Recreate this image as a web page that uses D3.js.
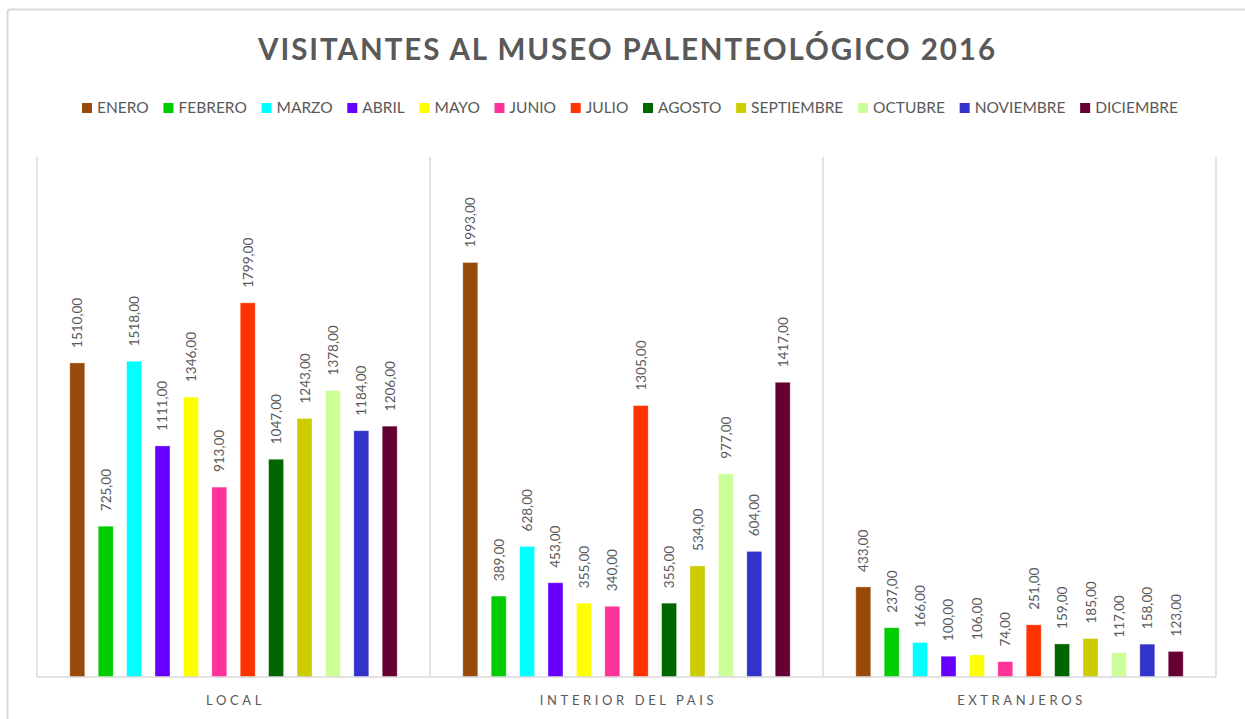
<!DOCTYPE html>
<html>
<head>
<meta charset="utf-8">
<script src="https://cdn.jsdelivr.net/npm/d3@7/dist/d3.min.js"></script>
<style>
  html, body { margin: 0; padding: 0; background: #fff; }
  svg { display: block; font-family: Lato, "Open Sans", sans-serif; }
</style>
</head>
<body>
<svg id="chart" width="1245" height="719"></svg>
<script>
// Visitor counts per origin group, one series per month
const groups = ["LOCAL", "INTERIOR DEL PAIS", "EXTRANJEROS"];
const months = ["ENERO", "FEBRERO", "MARZO", "ABRIL", "MAYO", "JUNIO", "JULIO",
                "AGOSTO", "SEPTIEMBRE", "OCTUBRE", "NOVIEMBRE", "DICIEMBRE"];
const localValues    = [1510, 725, 1518, 1111, 1346, 913, 1799, 1047, 1243, 1378, 1184, 1206];
const interiorValues = [1993, 389, 628, 453, 355, 340, 1305, 355, 534, 977, 604, 1417];
const foreignValues  = [433, 237, 166, 100, 106, 74, 251, 159, 185, 117, 158, 123];
const monthColors = ["#974A0A", "#00CC00", "#00FFFF", "#6600FF", "#FFFF00", "#FF3399",
                     "#FF3300", "#006600", "#CCCC00", "#CCFF99", "#3333CC", "#660033"];
const yMax = 2500;

const seriesByGroup = [localValues, interiorValues, foreignValues];
const rows = [];
groups.forEach((g, gi) => months.forEach((m, mi) =>
  rows.push({ group: g, month: m, value: seriesByGroup[gi][mi] })));

const svg = d3.select("#chart");
const textColor = "#595959";
const gridColor = "#d9d9d9";

// chart frame
svg.append("rect")
  .attr("x", 7.5).attr("y", 9.5).attr("width", 1260).attr("height", 730)
  .attr("rx", 3)
  .attr("fill", "none").attr("stroke", gridColor).attr("stroke-width", 2);

const plot = { left: 37, right: 1216, top: 157, bottom: 677 };

const x0 = d3.scaleBand().domain(groups).range([plot.left, plot.right]).padding(0);
const x1 = d3.scaleBand().domain(months).range([0, x0.bandwidth()])
  .paddingInner(0.472).paddingOuter(1.155);
const y = d3.scaleLinear().domain([0, yMax]).range([plot.bottom, plot.top]);
const color = d3.scaleOrdinal().domain(months).range(monthColors);

// title
svg.append("text")
  .attr("x", 626.5).attr("y", 60)
  .attr("text-anchor", "middle")
  .attr("font-size", 29.5).attr("font-weight", 700)
  .attr("fill", textColor)
  .attr("textLength", 737).attr("lengthAdjust", "spacing")
  .text("VISITANTES AL MUSEO PALENTEOLÓGICO 2016");

// group separators (category axis boundaries)
const bounds = groups.map(g => x0(g)).concat([x0(groups[groups.length - 1]) + x0.bandwidth()]);
svg.append("g").selectAll("line").data(bounds).join("line")
  .attr("x1", d => d).attr("x2", d => d)
  .attr("y1", plot.top).attr("y2", plot.bottom)
  .attr("stroke", gridColor).attr("stroke-width", 1.5);

// bars
const bars = svg.append("g");
bars.selectAll("rect").data(rows).join("rect")
  .attr("x", d => x0(d.group) + x1(d.month))
  .attr("y", d => y(d.value))
  .attr("width", x1.bandwidth())
  .attr("height", d => y(0) - y(d.value))
  .attr("fill", d => color(d.month))
  .attr("stroke", "rgba(255,255,255,0.45)").attr("stroke-width", 0.8);

// value labels, rotated above each bar
svg.append("g").selectAll("text").data(rows).join("text")
  .attr("transform", d => {
    const cx = x0(d.group) + x1(d.month) + x1.bandwidth() / 2 + 5;
    return `translate(${cx},${y(d.value) - 15}) rotate(-90)`;
  })
  .attr("text-anchor", "start")
  .attr("font-size", 13.5).attr("fill", textColor)
  .text(d => d3.format(".2f")(d.value).replace(".", ","));

// baseline
svg.append("line")
  .attr("x1", plot.left).attr("x2", plot.right)
  .attr("y1", plot.bottom).attr("y2", plot.bottom)
  .attr("stroke", gridColor).attr("stroke-width", 1.5);

// category labels
svg.append("g").selectAll("text").data(groups).join("text")
  .attr("x", d => x0(d) + x0.bandwidth() / 2 + 2)
  .attr("y", 705)
  .attr("text-anchor", "middle")
  .attr("font-size", 13).attr("letter-spacing", 3.6)
  .attr("fill", textColor)
  .text(d => d);

// legend
const legend = svg.append("g");
const items = legend.selectAll("g").data(months).join("g");
items.append("rect").attr("width", 10).attr("height", 10).attr("y", -10)
  .attr("fill", d => color(d));
items.append("text").attr("x", 15).attr("y", 0)
  .attr("font-size", 15.5).attr("fill", textColor).text(d => d);
const widths = [];
items.select("text").each(function () { widths.push(this.getComputedTextLength()); });
const legendLeft = 82, legendRight = 1178;
const used = d3.sum(widths.map(w => 15 + w));
const gap = (legendRight - legendLeft - used) / (months.length - 1);
let cursor = legendLeft;
items.attr("transform", (d, i) => {
  const t = `translate(${cursor},113)`;
  cursor += 15 + widths[i] + gap;
  return t;
});
</script>
</body>
</html>
